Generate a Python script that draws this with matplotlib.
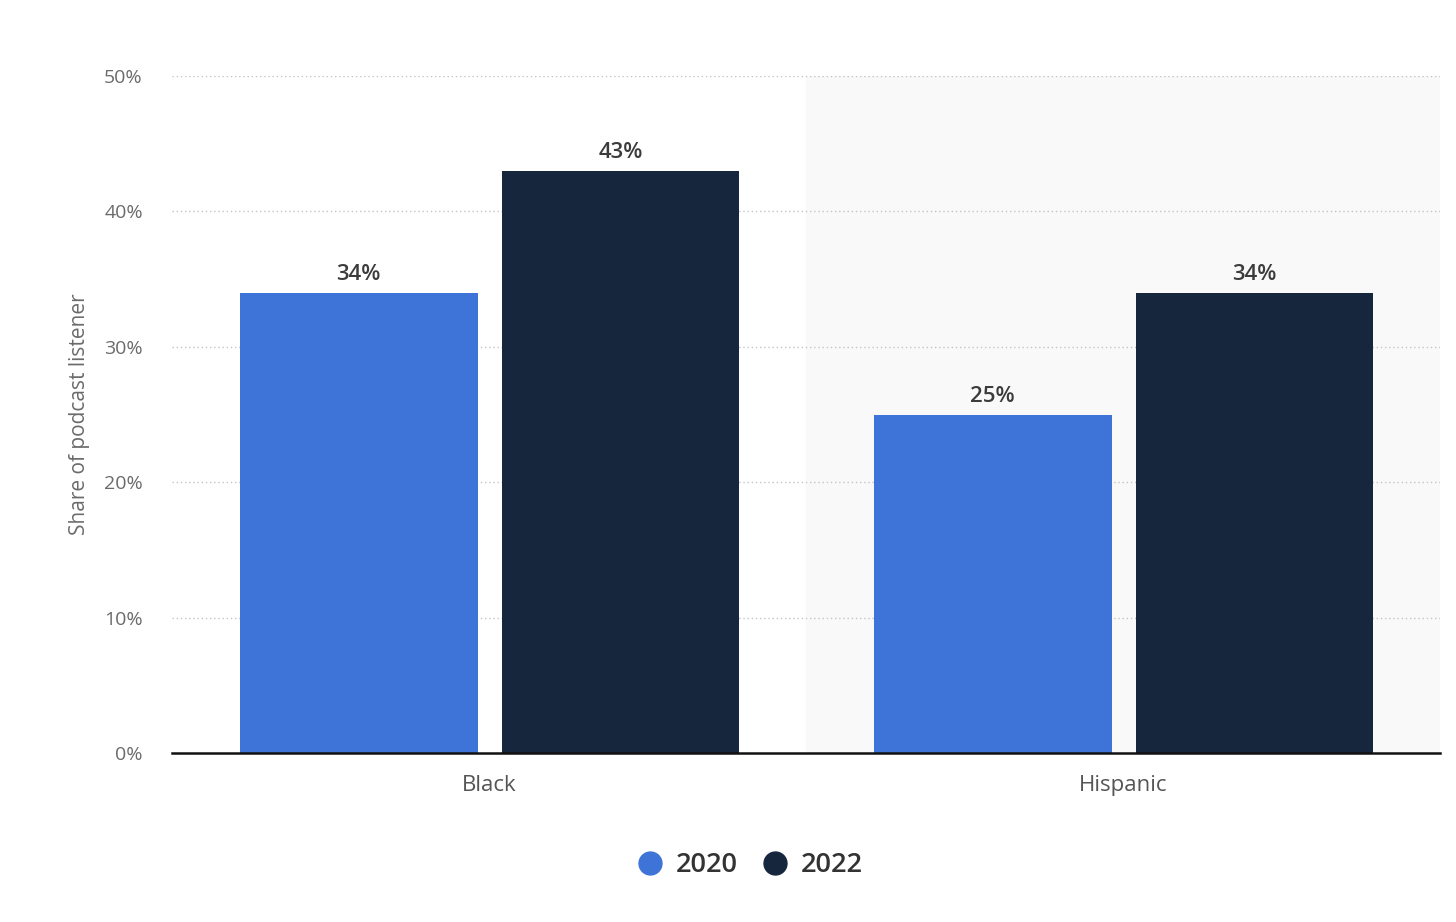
import matplotlib
matplotlib.use("Agg")
import matplotlib.pyplot as plt
from matplotlib.lines import Line2D
import numpy as np

plt.rcParams['font.family'] = ['Open Sans', 'DejaVu Sans']

categories = ["Black", "Hispanic"]
series_names = ["2020", "2022"]
values_2020 = [34, 25]
values_2022 = [43, 34]
yticks = [0, 10, 20, 30, 40, 50]
ytick_labels = ["0%", "10%", "20%", "30%", "40%", "50%"]

colors = ["#3e73d7", "#16263d"]

fig = plt.figure(figsize=(14.56, 9.22), dpi=100)
ax = fig.add_axes([172/1456, 1-753/922, (1440-172)/1456, (753-76)/922])

x = np.arange(len(categories))
width = 0.375
off = 0.2065

ax.axvspan(0.5, 1.5, color="#f9f9f9", zorder=0)
for yv in yticks[1:]:
    ax.axhline(yv, color="#c4c4c4", lw=1.0, ls=(0, (1, 2)), zorder=1)

for vals, o, c in [(values_2020, -off, colors[0]), (values_2022, off, colors[1])]:
    bars = ax.bar(x + o + 0.001, vals, width=width, color=c, zorder=2)
    for b, v in zip(bars, vals):
        ax.text(b.get_x() + b.get_width()/2, v + 0.95, f"{v}%", ha="center", va="baseline",
                fontsize=16, fontweight="semibold", color="#3c3c3c")

ax.set_xlim(-0.5, 1.5)
ax.set_ylim(0, 50)
ax.set_yticks(yticks)
ax.set_yticklabels(ytick_labels)
ax.set_xticks(x)
ax.set_xticklabels(categories)
for s in ["top", "right", "left"]:
    ax.spines[s].set_visible(False)
ax.spines["bottom"].set_color("#111111")
ax.spines["bottom"].set_linewidth(1.8)
ax.spines["bottom"].set_zorder(3)
ax.tick_params(axis="y", length=0, pad=21, labelsize=14, labelcolor="#6b6b6b")
ax.tick_params(axis="x", length=0, pad=16, labelsize=16, labelcolor="#555555")
ax.set_ylabel("Share of podcast listener", fontsize=15, color="#6b6b6b")
ax.yaxis.set_label_coords((90-172)/1268, 0.5)

handles = [Line2D([], [], marker="o", ls="", markersize=16.5, color=c) for c in colors]
leg = fig.legend(handles, series_names, loc="center", bbox_to_anchor=(748.5/1456, 1-865/922),
                 ncol=2, frameon=False, handletextpad=0.36, columnspacing=0.77,
                 handlelength=1.2, prop={"size": 19.5, "weight": "semibold"})
for t in leg.get_texts():
    t.set_color("#333333")

fig.savefig("out.png", dpi=100)
